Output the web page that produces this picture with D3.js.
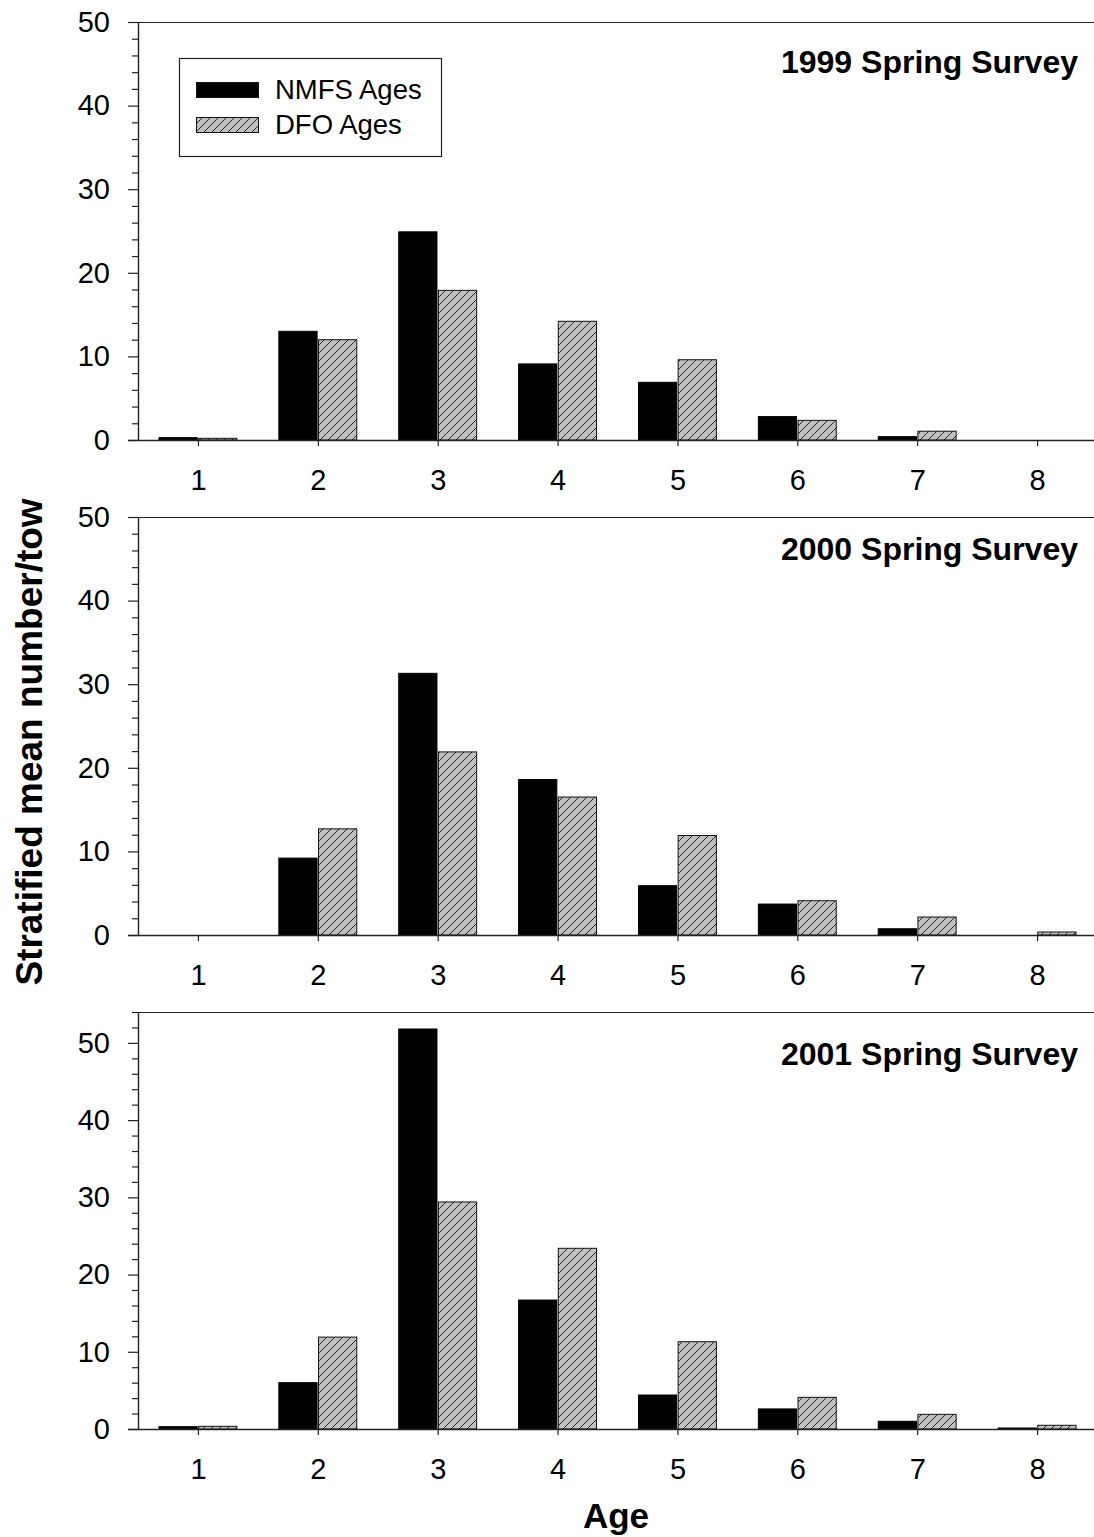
<!DOCTYPE html>
<html>
<head>
<meta charset="utf-8">
<script src="https://cdn.jsdelivr.net/npm/d3@7"></script>
<style>
  html, body { margin: 0; padding: 0; background: #fff; }
  svg { display: block; font-family: "Liberation Sans", Arial, sans-serif; }
</style>
</head>
<body>
<svg id="chart" width="1094" height="1537"></svg>
<script>
// ---- data ----
const ages = [1, 2, 3, 4, 5, 6, 7, 8];
const seriesNames = ["NMFS Ages", "DFO Ages"];
const panelTitles = ["1999 Spring Survey", "2000 Spring Survey", "2001 Spring Survey"];
const nmfs1999 = [0.28, 13.0, 24.9, 9.1, 6.9, 2.8, 0.4, 0];
const dfo1999  = [0.2, 12.0, 17.9, 14.2, 9.6, 2.35, 1.05, 0];
const nmfs2000 = [0, 9.2, 31.3, 18.6, 5.9, 3.7, 0.75, 0];
const dfo2000  = [0, 12.7, 21.9, 16.5, 11.9, 4.1, 2.15, 0.36];
const nmfs2001 = [0.3, 6.0, 51.8, 16.7, 4.4, 2.6, 1.0, 0.13];
const dfo2001  = [0.35, 11.9, 29.4, 23.4, 11.3, 4.1, 1.9, 0.48];
const yMaxes = [50, 50, 54];
const yMajorTicks = [0, 10, 20, 30, 40, 50];
const xTickLabels = ["1", "2", "3", "4", "5", "6", "7", "8"];

const panels = [
  { title: panelTitles[0], nmfs: nmfs1999, dfo: dfo1999, ymax: yMaxes[0], top: 22, bottom: 440, titleY: 73 },
  { title: panelTitles[1], nmfs: nmfs2000, dfo: dfo2000, ymax: yMaxes[1], top: 517, bottom: 935, titleY: 560 },
  { title: panelTitles[2], nmfs: nmfs2001, dfo: dfo2001, ymax: yMaxes[2], top: 1012, bottom: 1429, titleY: 1065 }
];

const svg = d3.select("#chart");
const AX = "#222";
const left = 138, right = 1097;

// hatch pattern
const defs = svg.append("defs");
const pat = defs.append("pattern")
  .attr("id", "hatch").attr("patternUnits", "userSpaceOnUse")
  .attr("width", 8).attr("height", 8);
pat.append("rect").attr("width", 8).attr("height", 8).attr("fill", "#c0c0c0");
pat.append("path").attr("d", "M-1,1 L1,-1 M0,8 L8,0 M7,9 L9,7")
  .attr("stroke", "#000").attr("stroke-width", 0.8);

const x = d3.scaleLinear().domain([0.5, 8.5]).range([left, right]);
const half = 0.325, gap = 0.006;

panels.forEach((p, i) => {
  const y = d3.scaleLinear().domain([0, p.ymax]).range([p.bottom, p.top]);
  const g = svg.append("g");

  // top frame line
  g.append("line")
    .attr("x1", i < 2 ? left - 10 : left).attr("x2", 1094)
    .attr("y1", y(p.ymax) + 0.5).attr("y2", y(p.ymax) + 0.5)
    .attr("stroke", AX).attr("stroke-width", 1.2);

  // bars
  g.selectAll("rect.nmfs").data(ages).enter().append("rect")
    .attr("class", "nmfs")
    .attr("x", d => x(d - half))
    .attr("width", d => x(d - gap) - x(d - half))
    .attr("y", (d, k) => y(p.nmfs[k]))
    .attr("height", (d, k) => y(0) - y(p.nmfs[k]))
    .attr("fill", "#000").attr("stroke", "#000").attr("stroke-width", 1)
    .style("display", (d, k) => p.nmfs[k] > 0 ? null : "none");
  g.selectAll("rect.dfo").data(ages).enter().append("rect")
    .attr("class", "dfo")
    .attr("x", d => x(d + gap))
    .attr("width", d => x(d + half) - x(d + gap))
    .attr("y", (d, k) => y(p.dfo[k]))
    .attr("height", (d, k) => y(0) - y(p.dfo[k]))
    .attr("fill", "url(#hatch)").attr("stroke", "#111").attr("stroke-width", 1)
    .style("display", (d, k) => p.dfo[k] > 0 ? null : "none");

  // y minor ticks
  const minor = d3.range(0, p.ymax + 0.001, 2).filter(v => v % 10 !== 0);
  const yMinor = g.append("g").attr("transform", `translate(${left},0)`)
    .call(d3.axisLeft(y).tickValues(minor).tickSize(6).tickFormat(""));
  yMinor.select(".domain").remove();
  yMinor.selectAll("line").attr("stroke", AX).attr("stroke-width", 1.2);

  // y major axis
  const yAx = g.append("g").attr("transform", `translate(${left},0)`)
    .call(d3.axisLeft(y).tickValues(yMajorTicks).tickSize(10).tickPadding(18).tickSizeOuter(0));
  yAx.select(".domain").attr("stroke", AX).attr("stroke-width", 1.4);
  yAx.selectAll("line").attr("stroke", AX).attr("stroke-width", 1.2);
  yAx.selectAll("text").attr("font-size", 29).attr("fill", "#000")
    .attr("font-family", "Liberation Sans, Arial, sans-serif");

  // x axis
  const xAx = g.append("g").attr("transform", `translate(0,${p.bottom})`)
    .call(d3.axisBottom(x).tickValues(ages).tickFormat((d, k) => xTickLabels[k])
      .tickSize(6).tickPadding(23).tickSizeOuter(0));
  xAx.select(".domain").attr("d", `M${left - 10},0.5H1094`).attr("stroke", AX).attr("stroke-width", 1.3);
  xAx.selectAll("line").attr("stroke", AX).attr("stroke-width", 1.2);
  xAx.selectAll("text").attr("font-size", 29).attr("fill", "#000")
    .attr("font-family", "Liberation Sans, Arial, sans-serif");

  // title
  g.append("text").attr("x", 1078).attr("y", p.titleY)
    .attr("text-anchor", "end").attr("font-size", 32).attr("font-weight", "bold")
    .text(p.title);
});

// legend
const lg = svg.append("g");
lg.append("rect").attr("x", 179.5).attr("y", 58.5).attr("width", 262).attr("height", 98)
  .attr("fill", "#fff").attr("stroke", AX).attr("stroke-width", 1.2);
const legendFills = ["#000", "url(#hatch)"];
const legendY = [82, 117];
seriesNames.forEach((n, k) => {
  lg.append("rect").attr("x", 196.5).attr("y", legendY[k] + 0.5).attr("width", 62).attr("height", 15)
    .attr("fill", legendFills[k]).attr("stroke", "#111").attr("stroke-width", 1);
  lg.append("text").attr("x", 275).attr("y", legendY[k] + 17)
    .attr("font-size", 27.5).text(n);
});

// axis titles
svg.append("text")
  .attr("transform", "translate(42,742) rotate(-90)")
  .attr("text-anchor", "middle").attr("font-size", 37).attr("font-weight", "bold")
  .text("Stratified mean number/tow");
svg.append("text").attr("x", 616).attr("y", 1528)
  .attr("text-anchor", "middle").attr("font-size", 35).attr("font-weight", "bold")
  .text("Age");
</script>
</body>
</html>
